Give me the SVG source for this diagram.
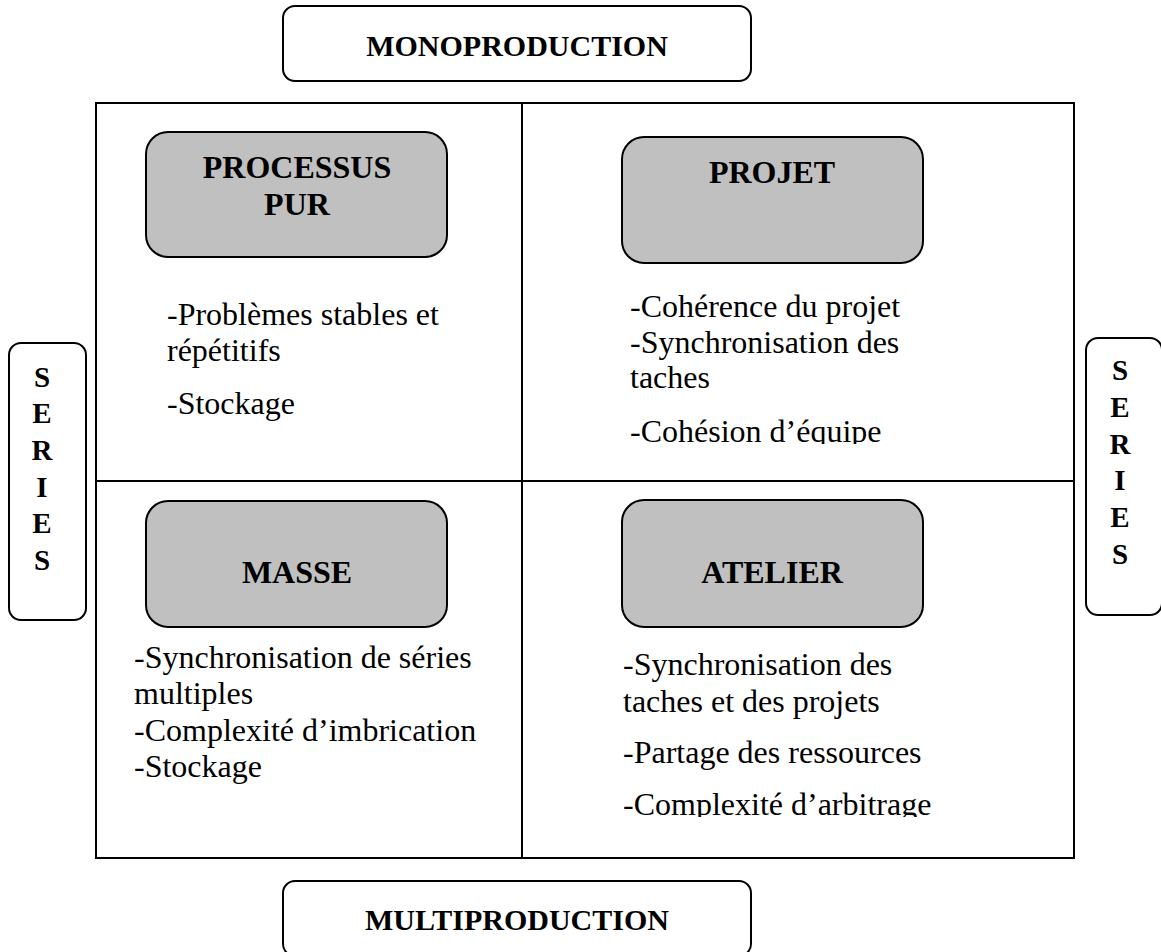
<svg xmlns="http://www.w3.org/2000/svg" width="1161" height="952" viewBox="0 0 1161 952">
  <defs>
    <style>
      .frame { fill: none; stroke: #000; stroke-width: 2; }
      .outer { fill: #fff; stroke: #000; stroke-width: 2; }
      .cat { fill: #c0c0c0; stroke: #000; stroke-width: 2; }
      .head { font-family: "Liberation Serif", "Times New Roman", serif; font-weight: bold; font-size: 30px; fill: #000; text-anchor: middle; }
      .cat-title { font-family: "Liberation Serif", "Times New Roman", serif; font-weight: bold; font-size: 32px; fill: #000; text-anchor: middle; }
      .side { font-family: "Liberation Serif", "Times New Roman", serif; font-weight: bold; font-size: 29px; fill: #000; text-anchor: middle; }
      .body { font-family: "Liberation Serif", "Times New Roman", serif; font-size: 32px; fill: #000; }
    </style>
    <!-- text areas whose last line is cut off by its frame -->
    <clipPath id="clip-projet"><rect x="523" y="280" width="550" height="164"/></clipPath>
    <clipPath id="clip-atelier"><rect x="523" y="640" width="550" height="177"/></clipPath>
  </defs>

  <!-- quadrant frame -->
  <g id="grid">
    <rect class="frame" x="96" y="103" width="978" height="755"/>
    <line class="frame" x1="522" y1="103" x2="522" y2="858"/>
    <line class="frame" x1="96" y1="481" x2="1074" y2="481"/>
  </g>

  <!-- axis labels -->
  <g id="monoproduction">
    <rect class="outer" x="283" y="6" width="468" height="75" rx="12"/>
    <text class="head" x="517" y="56">MONOPRODUCTION</text>
  </g>
  <g id="multiproduction">
    <rect class="outer" x="283" y="881" width="468" height="75" rx="12"/>
    <text class="head" x="517" y="930">MULTIPRODUCTION</text>
  </g>
  <g id="series-left">
    <rect class="outer" x="9" y="343" width="77" height="277" rx="12"/>
    <text class="side" x="42" y="387">S</text>
    <text class="side" x="42" y="423">E</text>
    <text class="side" x="42" y="460">R</text>
    <text class="side" x="42" y="497">I</text>
    <text class="side" x="42" y="533">E</text>
    <text class="side" x="42" y="570">S</text>
  </g>
  <g id="series-right">
    <rect class="outer" x="1086" y="338" width="76" height="277" rx="12"/>
    <text class="side" x="1120" y="380">S</text>
    <text class="side" x="1120" y="417">E</text>
    <text class="side" x="1120" y="454">R</text>
    <text class="side" x="1120" y="490">I</text>
    <text class="side" x="1120" y="527">E</text>
    <text class="side" x="1120" y="564">S</text>
  </g>

  <!-- top-left: processus pur -->
  <g id="processus-pur">
    <rect class="cat" x="146" y="132" width="301" height="125" rx="22"/>
    <text class="cat-title" x="297" y="178">PROCESSUS</text>
    <text class="cat-title" x="297" y="215">PUR</text>
    <text class="body" x="167" y="325">-Problèmes stables et</text>
    <text class="body" x="167" y="361">répétitifs</text>
    <text class="body" x="167" y="414">-Stockage</text>
  </g>

  <!-- top-right: projet -->
  <g id="projet">
    <rect class="cat" x="622" y="137" width="301" height="126" rx="22"/>
    <text class="cat-title" x="772" y="183">PROJET</text>
    <g clip-path="url(#clip-projet)">
      <text class="body" x="630" y="317">-Cohérence du projet</text>
      <text class="body" x="630" y="353">-Synchronisation des</text>
      <text class="body" x="630" y="388">taches</text>
      <text class="body" x="630" y="442">-Cohésion d’équipe</text>
    </g>
  </g>

  <!-- bottom-left: masse -->
  <g id="masse">
    <rect class="cat" x="146" y="501" width="301" height="126" rx="22"/>
    <text class="cat-title" x="297" y="583">MASSE</text>
    <text class="body" x="134" y="668">-Synchronisation de séries</text>
    <text class="body" x="134" y="704">multiples</text>
    <text class="body" x="134" y="741">-Complexité d’imbrication</text>
    <text class="body" x="134" y="777">-Stockage</text>
  </g>

  <!-- bottom-right: atelier -->
  <g id="atelier">
    <rect class="cat" x="622" y="500" width="301" height="127" rx="22"/>
    <text class="cat-title" x="772" y="583">ATELIER</text>
    <g clip-path="url(#clip-atelier)">
      <text class="body" x="623" y="675">-Synchronisation des</text>
      <text class="body" x="623" y="712">taches et des projets</text>
      <text class="body" x="623" y="763">-Partage des ressources</text>
      <text class="body" x="623" y="815">-Complexité d’arbitrage</text>
    </g>
  </g>
</svg>
